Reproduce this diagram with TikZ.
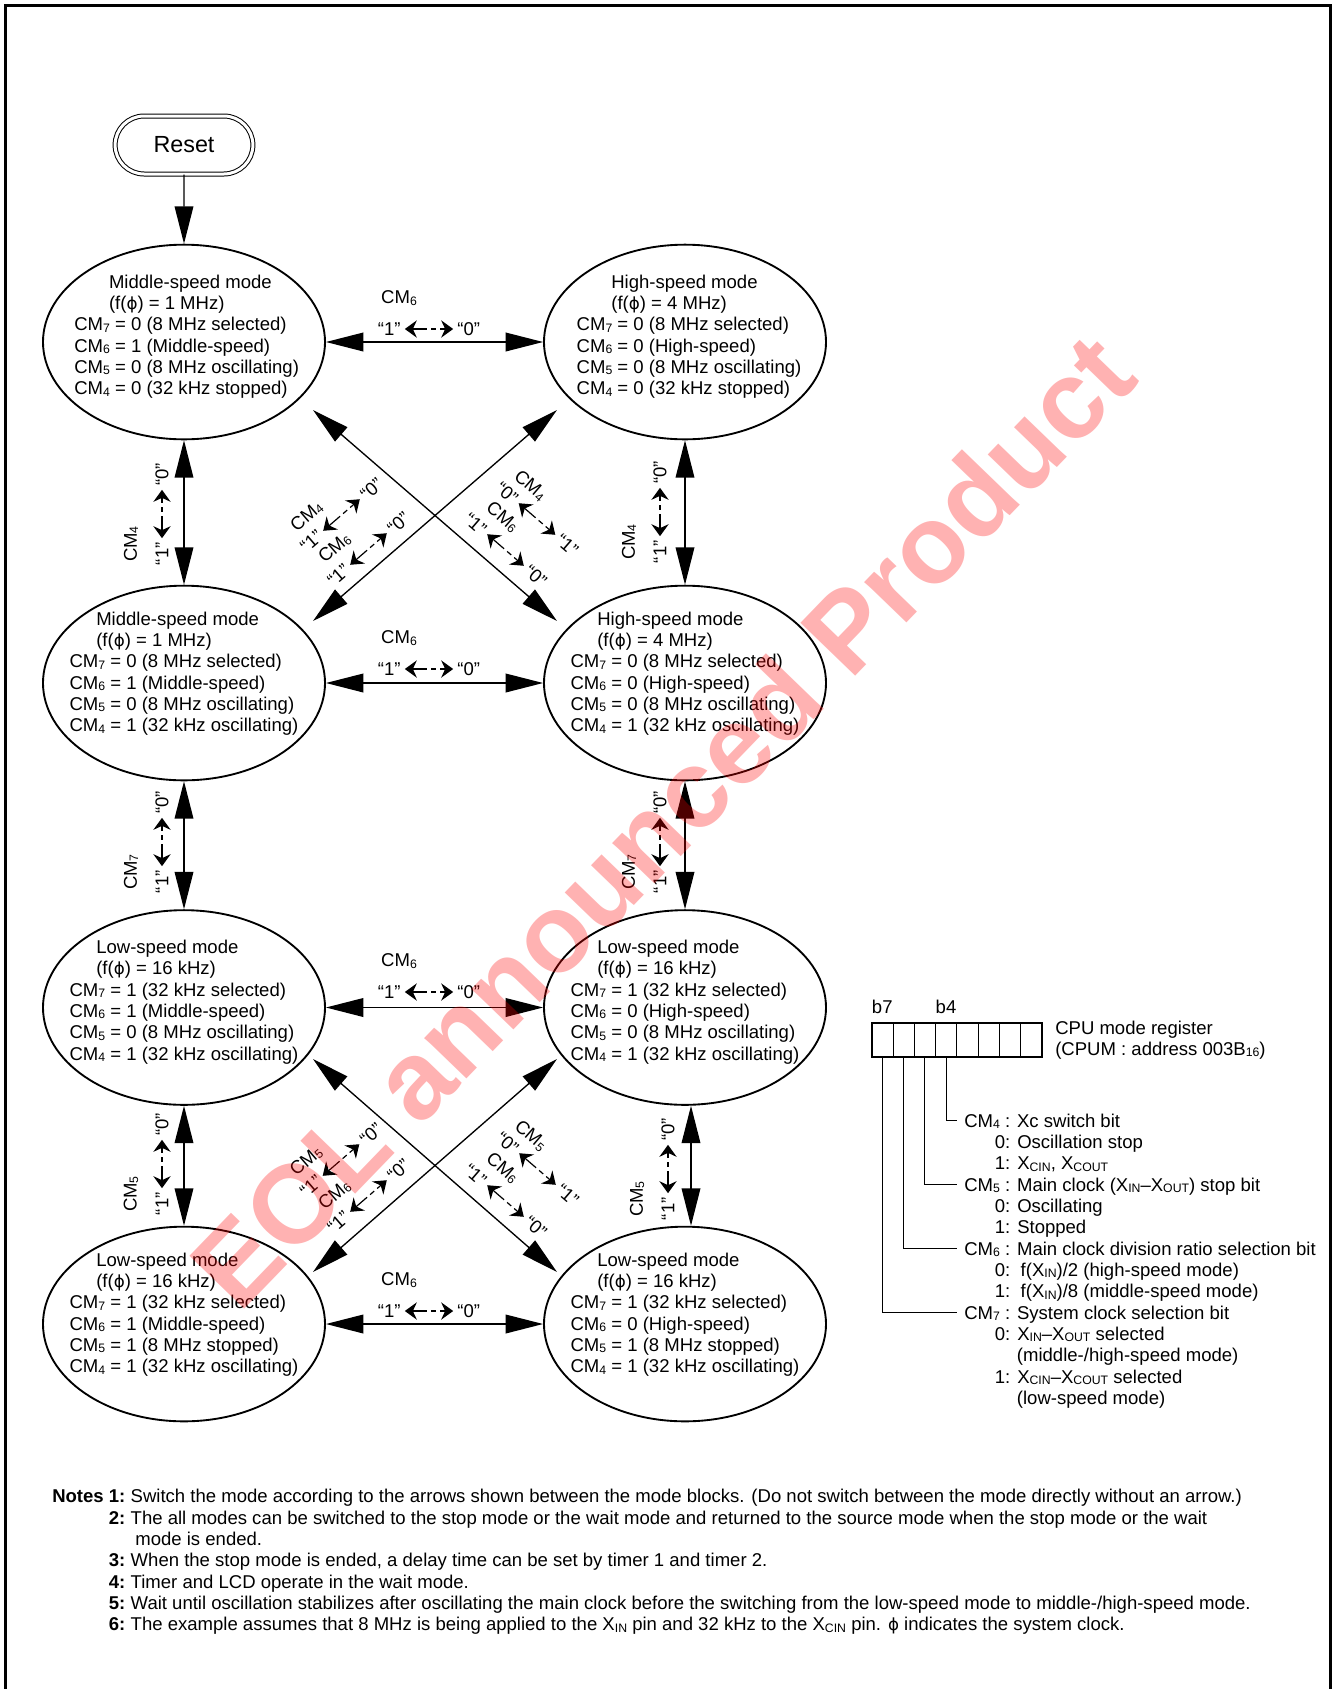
\documentclass[tikz,border=0pt]{standalone}
\usepackage{fontspec}
\setmainfont{Liberation Sans}
\newfontfamily\phifont[Scale=0.9]{DejaVu Sans}
\usetikzlibrary{arrows.meta,shapes.geometric,shapes.misc}

\newcommand{\sbs}[1]{\raisebox{-1pt}{\fontsize{9.2}{10}\selectfont #1}}
\newcommand{\fphi}{{\phifont ϕ}}
% bit label: name, position, angle, bit, left value, right value, place of the bit name
\newcommand{\bitlabel}[7]{%
  \begin{scope}[shift={#2}, rotate=#3, transform shape]
    \node[lbl, anchor=east] (#1l) at (-27.5,0) {#5};
    \node[lbl, anchor=west] (#1r) at (27.5,0) {#6};
    \draw[swarrow] (#1l) -- (#1r);
    \node[lbl] (#1c) at #7 {CM\sbs{#4}};
  \end{scope}}

\tikzset{
  mode/.style={draw, ellipse, line width=1.4pt, minimum width=211.5pt, minimum height=146pt},
  modetext/.style={align=left, inner sep=0pt},
  link/.style={<->, line width=1pt},
  lbl/.style={inner sep=0.5pt},
  swarrow/.style={{Stealth[length=9pt,width=13pt,inset=3pt]}-{Stealth[length=9pt,width=13pt,inset=3pt]}, line width=0.9pt, shorten <=2.5pt, shorten >=2.5pt, dash pattern=on 11pt off 3pt on 4pt off 3pt},
  cell/.style={draw, line width=0.6pt, minimum width=15.94pt, minimum height=25.5pt, inner sep=0pt, outer sep=0pt},
  desc/.style={anchor=north west, align=left, inner sep=0pt},
  leader/.style={line width=0.7pt}
}

\begin{document}
\begin{tikzpicture}[x=0.75pt, y=-0.75pt, font=\fontsize{13.9}{16}\selectfont, >={Triangle[length=28pt,width=14pt]}]
	\useasboundingbox (0,0) rectangle (1332,1689);
	\draw[line width=1.9pt] (5.5,5.5) rectangle (1330.5,1700);

	% reset
	\node[draw, double, double distance=2.25pt, line width=0.75pt, rounded rectangle, minimum width=110pt, minimum height=43.5pt, font=\fontsize{17.5}{20}\selectfont] (reset) at (184,145) {Reset};

	% modes
	\node[mode] (E1) at (184,342) {};
	\node[mode] (E2) at (685,342) {};
	\node[mode] (E3) at (184,683) {};
	\node[mode] (E4) at (685,683) {};
	\node[mode] (E5) at (184,1007.5) {};
	\node[mode] (E6) at (685,1007.5) {};
	\node[mode] (E7) at (184,1324) {};
	\node[mode] (E8) at (685,1324) {};

	\node[modetext] (E1t) at ([shift={(2pt,4pt)}]E1) {\hspace*{26pt}Middle-speed mode\\\hspace*{26pt}(f(\fphi) = 1 MHz)\\CM\sbs{7} = 0 (8 MHz selected)\\CM\sbs{6} = 1 (Middle-speed)\\CM\sbs{5} = 0 (8 MHz oscillating)\\CM\sbs{4} = 0 (32 kHz stopped)};
	\node[modetext] (E2t) at ([shift={(3pt,4pt)}]E2) {\hspace*{26pt}High-speed mode\\\hspace*{26pt}(f(\fphi) = 4 MHz)\\CM\sbs{7} = 0 (8 MHz selected)\\CM\sbs{6} = 0 (High-speed)\\CM\sbs{5} = 0 (8 MHz oscillating)\\CM\sbs{4} = 0 (32 kHz stopped)};
	\node[modetext] (E3t) at ([shift={(0pt,7pt)}]E3) {\hspace*{20pt}Middle-speed mode\\\hspace*{20pt}(f(\fphi) = 1 MHz)\\CM\sbs{7} = 0 (8 MHz selected)\\CM\sbs{6} = 1 (Middle-speed)\\CM\sbs{5} = 0 (8 MHz oscillating)\\CM\sbs{4} = 1 (32 kHz oscillating)};
	\node[modetext] (E4t) at ([shift={(0pt,7pt)}]E4) {\hspace*{20pt}High-speed mode\\\hspace*{20pt}(f(\fphi) = 4 MHz)\\CM\sbs{7} = 0 (8 MHz selected)\\CM\sbs{6} = 0 (High-speed)\\CM\sbs{5} = 0 (8 MHz oscillating)\\CM\sbs{4} = 1 (32 kHz oscillating)};
	\node[modetext] (E5t) at ([shift={(0pt,4pt)}]E5) {\hspace*{20pt}Low-speed mode\\\hspace*{20pt}(f(\fphi) = 16 kHz)\\CM\sbs{7} = 1 (32 kHz selected)\\CM\sbs{6} = 1 (Middle-speed)\\CM\sbs{5} = 0 (8 MHz oscillating)\\CM\sbs{4} = 1 (32 kHz oscillating)};
	\node[modetext] (E6t) at ([shift={(0pt,4pt)}]E6) {\hspace*{20pt}Low-speed mode\\\hspace*{20pt}(f(\fphi) = 16 kHz)\\CM\sbs{7} = 1 (32 kHz selected)\\CM\sbs{6} = 0 (High-speed)\\CM\sbs{5} = 0 (8 MHz oscillating)\\CM\sbs{4} = 1 (32 kHz oscillating)};
	\node[modetext] (E7t) at ([shift={(0pt,7pt)}]E7) {\hspace*{20pt}Low-speed mode\\\hspace*{20pt}(f(\fphi) = 16 kHz)\\CM\sbs{7} = 1 (32 kHz selected)\\CM\sbs{6} = 1 (Middle-speed)\\CM\sbs{5} = 1 (8 MHz stopped)\\CM\sbs{4} = 1 (32 kHz oscillating)};
	\node[modetext] (E8t) at ([shift={(0pt,7pt)}]E8) {\hspace*{20pt}Low-speed mode\\\hspace*{20pt}(f(\fphi) = 16 kHz)\\CM\sbs{7} = 1 (32 kHz selected)\\CM\sbs{6} = 0 (High-speed)\\CM\sbs{5} = 1 (8 MHz stopped)\\CM\sbs{4} = 1 (32 kHz oscillating)};

	% transitions
	\draw[->, line width=1pt] (reset) -- (E1);
	\draw[link] (E1) -- (E2);
	\draw[link] (E3) -- (E4);
	\draw[link] (E5) -- (E6);
	\draw[link] (E7) -- (E8);
	\draw[link] (E1) -- (E3);
	\draw[link] (E3) -- (E5);
	\draw[link] (E5) -- (E7);
	\draw[link] (E2) -- (E4);
	\draw[link] (E4) -- (E6);
	\draw[link] ([xshift=4.5pt]E6.south) -- ([xshift=4.5pt]E8.north);

	\coordinate (a1) at (313,410);
	\coordinate (a2) at (557,621);
	\coordinate (b1) at (313,621);
	\coordinate (b2) at (557,410);
	\coordinate (c1) at (313,1059);
	\coordinate (c2) at (557,1272);
	\coordinate (d1) at (313,1272);
	\coordinate (d2) at (557,1059);
	\draw[link] (a1) -- (a2);
	\draw[link] (b1) -- (b2);
	\draw[link] (c1) -- (c2);
	\draw[link] (d1) -- (d2);

	% bit labels
	\bitlabel{h1}{(429,329)}{0}{6}{“1”}{“0”}{(-30,-31)}
	\bitlabel{h2}{(429,669)}{0}{6}{“1”}{“0”}{(-30,-31)}
	\bitlabel{h3}{(429,992)}{0}{6}{“1”}{“0”}{(-30,-31)}
	\bitlabel{h4}{(429,1311)}{0}{6}{“1”}{“0”}{(-30,-31)}
	\bitlabel{v1}{(162,514)}{90}{4}{“1”}{“0”}{(-30,-31)}
	\bitlabel{v2}{(162,842)}{90}{7}{“1”}{“0”}{(-30,-31)}
	\bitlabel{v3}{(162,1164)}{90}{5}{“1”}{“0”}{(-30,-31)}
	\bitlabel{v4}{(660,512)}{90}{4}{“1”}{“0”}{(-30,-31)}
	\bitlabel{v5}{(660,842)}{90}{7}{“1”}{“0”}{(-30,-31)}
	\bitlabel{v6}{(668,1169)}{90}{5}{“1”}{“0”}{(-30,-31)}
	\bitlabel{x1}{(341.5,515)}{40.8}{4}{“1”}{“0”}{(-27,-22)}
	\bitlabel{x2}{(368.5,549)}{40.8}{6}{“1”}{“0”}{(-25,-23)}
	\bitlabel{x3}{(537,519)}{-40.8}{4}{“0”}{“1”}{(-27,-21)}
	\bitlabel{x4}{(505.5,550)}{-40.8}{6}{“1”}{“0”}{(-24,-23)}
	\bitlabel{y1}{(341,1160)}{40.8}{5}{“1”}{“0”}{(-27,-22)}
	\bitlabel{y2}{(368.5,1196)}{40.8}{6}{“1”}{“0”}{(-25,-23)}
	\bitlabel{y3}{(537.5,1169)}{-40.8}{5}{“0”}{“1”}{(-27,-21)}
	\bitlabel{y4}{(505.5,1201)}{-40.8}{6}{“1”}{“0”}{(-24,-23)}

	% CPU mode register
	\foreach \i in {0,...,7}
		\node[cell] (r\i) at ({882.3+21.25*\i},1040) {};
	\draw[line width=1.5pt] (r0.north west) rectangle (r7.south east);
	\node[anchor=south west, inner sep=0pt] (b7) at ([yshift=6.5pt]r0.north west) {b7};
	\node[anchor=south west, inner sep=0pt] (b4) at ([yshift=6.5pt]r3.north west) {b4};
	\node[anchor=west, align=left, inner sep=0pt] (cpum) at ([xshift=10pt]r7.east) {CPU mode register\\(CPUM : address 003B\sbs{16})};

	\node[desc] (d4) at (964,1111.8) {\strut CM\sbs{4} : Xc switch bit\\\hspace*{23pt}0: Oscillation stop\\\hspace*{23pt}1: X\sbs{CIN}, X\sbs{COUT}};
	\node[desc] (d5) at (964,1176.1) {\strut CM\sbs{5} : Main clock (X\sbs{IN}–X\sbs{OUT}) stop bit\\\hspace*{23pt}0: Oscillating\\\hspace*{23pt}1: Stopped};
	\node[desc] (d6) at (964,1240.1) {\strut CM\sbs{6} : Main clock division ratio selection bit\\\hspace*{23pt}0:\ \ f(X\sbs{IN})/2 (high-speed mode)\\\hspace*{23pt}1:\ \ f(X\sbs{IN})/8 (middle-speed mode)};
	\node[desc] (d7) at (964,1303.8) {\strut CM\sbs{7} : System clock selection bit\\\hspace*{23pt}0: X\sbs{IN}–X\sbs{OUT} selected\\\hspace*{39.5pt}(middle-/high-speed mode)\\\hspace*{23pt}1: X\sbs{CIN}–X\sbs{COUT} selected\\\hspace*{39.5pt}(low-speed mode)};
	\draw[leader] (r3.south) |- ([shift={(-5.5pt,-6.2pt)}]d4.north west);
	\draw[leader] (r2.south) |- ([shift={(-5.5pt,-6.2pt)}]d5.north west);
	\draw[leader] (r1.south) |- ([shift={(-5.5pt,-6.2pt)}]d6.north west);
	\draw[leader] (r0.south) |- ([shift={(-5.5pt,-6.2pt)}]d7.north west);

	% notes
	\node[anchor=north west, inner sep=0pt] (notes) at (52,1487.5) {\begin{tabular}{@{}r@{\hspace{4pt}}l@{}}
		\textbf{Notes 1:} & Switch the mode according to the arrows shown between the mode blocks. (Do not switch between the mode directly without an arrow.)\\
		\textbf{2:} & The all modes can be switched to the stop mode or the wait mode and returned to the source mode when the stop mode or the wait\\
		& \hspace*{3.5pt}mode is ended.\\
		\textbf{3:} & When the stop mode is ended, a delay time can be set by timer 1 and timer 2.\\
		\textbf{4:} & Timer and LCD operate in the wait mode.\\
		\textbf{5:} & Wait until oscillation stabilizes after oscillating the main clock before the switching from the low-speed mode to middle-/high-speed mode.\\
		\textbf{6:} & The example assumes that 8 MHz is being applied to the X\sbs{IN} pin and 32 kHz to the X\sbs{CIN} pin. \fphi{} indicates the system clock.
	\end{tabular}};

	% watermark
	\node[rotate=46, text=red, text opacity=0.3, font=\fontsize{83}{90}\selectfont\bfseries] (stamp) at (662,820) {EOL announced Product};
\end{tikzpicture}
\end{document}
